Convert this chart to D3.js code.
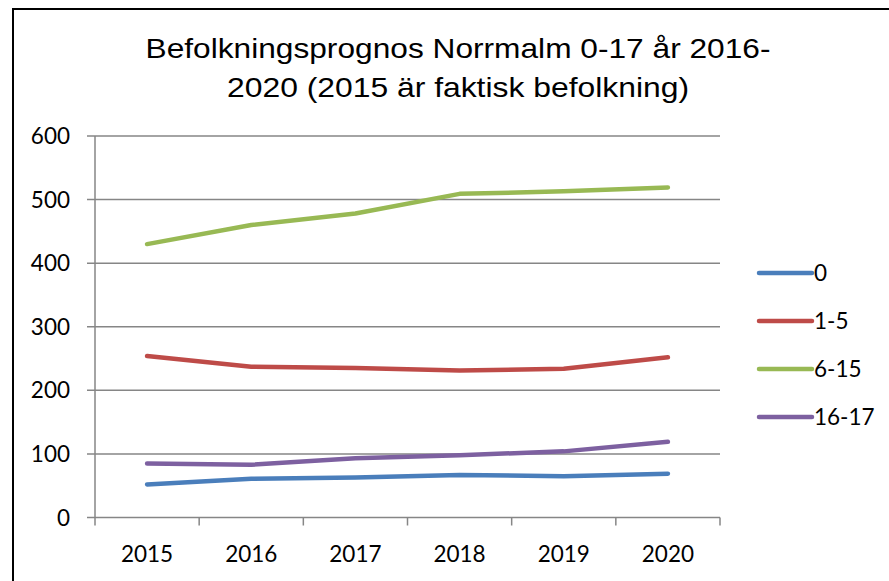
<!DOCTYPE html>
<html>
<head>
<meta charset="utf-8">
<script src="https://cdn.jsdelivr.net/npm/d3@7"></script>
<style>
  body { margin: 0; background: #fff; }
  text { fill: #000; }
</style>
</head>
<body>
<div id="chart"></div>
<script>
// data
var years = ['2015', '2016', '2017', '2018', '2019', '2020']
var seriesNames = ['0', '1-5', '6-15', '16-17']
var age0 = [52, 61, 63, 67, 65, 69]
var age1to5 = [254, 237, 235, 231, 234, 252]
var age6to15 = [430, 460, 478, 509, 513, 519]
var age16to17 = [85, 83, 93, 98, 104, 119]
var yTicks = [0, 100, 200, 300, 400, 500, 600]
var titleLines = ['Befolkningsprognos Norrmalm 0-17 år 2016-', '2020 (2015 är faktisk befolkning)']

var colors = ['#4a7ebb', '#be4b48', '#98b954', '#7d60a0']
var series = [age0, age1to5, age6to15, age16to17]

var W = 889
var H = 581
var margin = { top: 136, right: 169, bottom: 63, left: 95 }

var svg = d3.select('#chart')
  .append('svg')
  .attr('width', W)
  .attr('height', H)

// outer frame (cut off at right and bottom)
svg.append('rect')
  .attr('x', 13)
  .attr('y', 9)
  .attr('width', W)
  .attr('height', H)
  .attr('fill', 'none')
  .attr('stroke', '#000')
  .attr('stroke-width', 2)

var xScale = d3.scaleBand()
  .domain(years)
  .range([margin.left, W - margin.right])

var yScale = d3.scaleLinear()
  .domain([0, 600])
  .range([H - margin.bottom - 0.5, margin.top])

// title, stretched a little like the original
var titleWidths = [625, 462]
svg.append('g')
  .selectAll('text')
  .data(titleLines)
  .enter().append('text')
  .attr('x', (d, i) => 458 - titleWidths[i] / 2)
  .attr('y', (d, i) => 58 + i * 39)
  .attr('textLength', (d, i) => titleWidths[i])
  .attr('lengthAdjust', 'spacingAndGlyphs')
  .attr('font-family', 'Liberation Sans, Arial, sans-serif')
  .attr('font-size', 28)
  .text(d => d)

// gridlines
svg.append('g')
  .selectAll('line')
  .data(yTicks)
  .enter().append('line')
  .attr('x1', margin.left - 8)
  .attr('x2', W - margin.right)
  .attr('y1', d => yScale(d))
  .attr('y2', d => yScale(d))
  .attr('stroke', '#868686')
  .attr('stroke-width', 1.5)

// y axis line
svg.append('line')
  .attr('x1', margin.left)
  .attr('x2', margin.left)
  .attr('y1', yScale(600))
  .attr('y2', yScale(0))
  .attr('stroke', '#868686')
  .attr('stroke-width', 1.5)

// x ticks at band edges
var edges = years.map(d => xScale(d)).concat([xScale.range()[1]])
svg.append('g')
  .selectAll('line')
  .data(edges)
  .enter().append('line')
  .attr('x1', d => d)
  .attr('x2', d => d)
  .attr('y1', yScale(0))
  .attr('y2', yScale(0) + 8)
  .attr('stroke', '#868686')
  .attr('stroke-width', 1.5)

var labelFont = 'Lato, Carlito, Calibri, sans-serif'
var labelSize = 22.5

// y labels
svg.append('g')
  .selectAll('text')
  .data(yTicks)
  .enter().append('text')
  .attr('x', 70)
  .attr('y', d => yScale(d) + 8)
  .attr('text-anchor', 'end')
  .attr('font-family', labelFont)
  .attr('font-size', labelSize)
  .text(d => d)

// x labels
svg.append('g')
  .selectAll('text')
  .data(years)
  .enter().append('text')
  .attr('x', d => xScale(d) + xScale.bandwidth() / 2)
  .attr('y', 562)
  .attr('text-anchor', 'middle')
  .attr('font-family', labelFont)
  .attr('font-size', labelSize)
  .text(d => d)

// lines
var line = d3.line()
  .x((d, i) => xScale(years[i]) + xScale.bandwidth() / 2)
  .y(d => yScale(d))

svg.append('g')
  .selectAll('path')
  .data(series)
  .enter().append('path')
  .attr('d', d => line(d))
  .attr('fill', 'none')
  .attr('stroke', (d, i) => colors[i])
  .attr('stroke-width', 4.5)
  .attr('stroke-linecap', 'round')
  .attr('stroke-linejoin', 'round')

// legend
var legend = svg.append('g')
  .selectAll('g')
  .data(seriesNames)
  .enter().append('g')
  .attr('transform', (d, i) => 'translate(759,' + (273 + i * 48) + ')')

legend.append('line')
  .attr('x1', 0)
  .attr('x2', 53)
  .attr('stroke', (d, i) => colors[i])
  .attr('stroke-width', 4.5)
  .attr('stroke-linecap', 'round')

legend.append('text')
  .attr('x', 55)
  .attr('y', 8)
  .attr('font-family', labelFont)
  .attr('font-size', labelSize)
  .text(d => d)
</script>
</body>
</html>
